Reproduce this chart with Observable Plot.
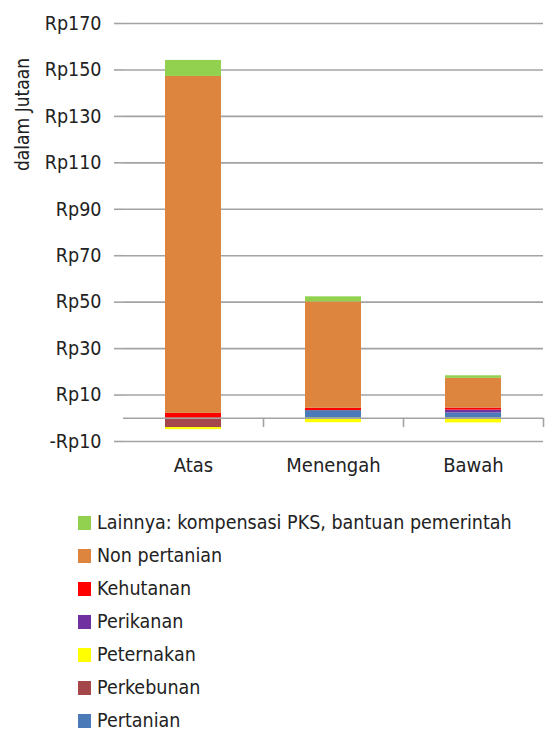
<!DOCTYPE html>
<html>
<head>
<meta charset="utf-8">
<script src="https://cdn.jsdelivr.net/npm/d3@7"></script>
<script src="https://cdn.jsdelivr.net/npm/@observablehq/plot@0.6"></script>
<style>
  body { margin: 0; background: #fff; }
  #chart { width: 545px; font-family: "DejaVu Sans Condensed", sans-serif; }
  .legend { margin: 26px 0 0 78px; }
  .legend .item { display: flex; align-items: center; height: 33px; font-size: 19.5px; color: #222; }
  .legend .sw { width: 13px; height: 14px; margin-right: 6px; flex: none; }
</style>
</head>
<body>
<div id="chart"></div>
<script>
const categories = ["Atas", "Menengah", "Bawah"];
// stacking order, bottom to top
const series = ["Pertanian", "Perkebunan", "Peternakan", "Perikanan", "Kehutanan", "Non pertanian", "Lainnya: kompensasi PKS, bantuan pemerintah"];
const colors = ["#4a7ab8", "#a5474a", "#ffff00", "#7030a0", "#ff0000", "#dd843f", "#92d050"];
// values (juta Rp) per series, for Atas, Menengah, Bawah
const pertanian     = [0, 3.3, 2.3];
const perkebunan    = [-4.0, 0, 0];
const peternakan    = [-0.9, -1.9, -2.0];
const perikanan     = [0, 0, 1.2];
const kehutanan     = [2.1, 1.0, 0.9];
const nonPertanian  = [145.1, 45.8, 12.8];
const lainnya       = [6.9, 2.2, 1.1];
const yTicks = [-10, 10, 30, 50, 70, 90, 110, 130, 150, 170];
const yLabel = "dalam Jutaan";

const valuesBySeries = [pertanian, perkebunan, peternakan, perikanan, kehutanan, nonPertanian, lainnya];
const data = [];
series.forEach((s, i) => categories.forEach((c, j) => data.push({cat: c, series: s, value: valuesBySeries[i][j]})));

const fmt = d => d < 0 ? "-Rp" + (-d) : "Rp" + d;
const grey = "#a3a3a3";
const font = "'DejaVu Sans Condensed', sans-serif";

const plot = Plot.plot({
  width: 545,
  height: 480,
  marginLeft: 123,
  marginRight: 2,
  marginTop: 23,
  marginBottom: 39,
  style: {fontFamily: font, fontSize: "19.5px", color: "#222", background: "#fff"},
  x: {domain: categories, paddingInner: 0.6, paddingOuter: 0.3, label: null},
  y: {domain: [-10, 170], label: null},
  color: {domain: series, range: colors},
  marks: [
    Plot.gridY(yTicks, {stroke: grey, strokeOpacity: 1, strokeWidth: 1.6}),
    Plot.barY(data, {x: "cat", y: "value", fill: "series", order: series}),
    Plot.ruleY([0], {stroke: grey, strokeWidth: 1.6}),
    Plot.ruleX(categories, {x: d => d, dx: 70, y1: 0, y2: -4, stroke: grey, strokeWidth: 1.6}),
    Plot.axisY({ticks: yTicks, tickFormat: fmt, tickSize: 9, tickPadding: 13, stroke: grey, strokeWidth: 1.6, label: null, line: true, strokeOpacity: 1, fontSize: 19.5}),
    Plot.axisX({tickSize: 0, tickPadding: 16, label: null, fontSize: 20}),
    Plot.text([yLabel], {frameAnchor: "top-left", dx: -108, dy: 91, rotate: -90, textAnchor: "middle", fontSize: 19, fill: "#222"})
  ]
});
document.getElementById("chart").appendChild(plot);

const legend = document.createElement("div");
legend.className = "legend";
series.slice().reverse().forEach((s) => {
  const i = series.indexOf(s);
  const item = document.createElement("div");
  item.className = "item";
  const sw = document.createElement("span");
  sw.className = "sw";
  sw.style.background = colors[i];
  const t = document.createElement("span");
  t.textContent = s;
  item.appendChild(sw); item.appendChild(t);
  legend.appendChild(item);
});
document.getElementById("chart").appendChild(legend);
</script>
</body>
</html>
